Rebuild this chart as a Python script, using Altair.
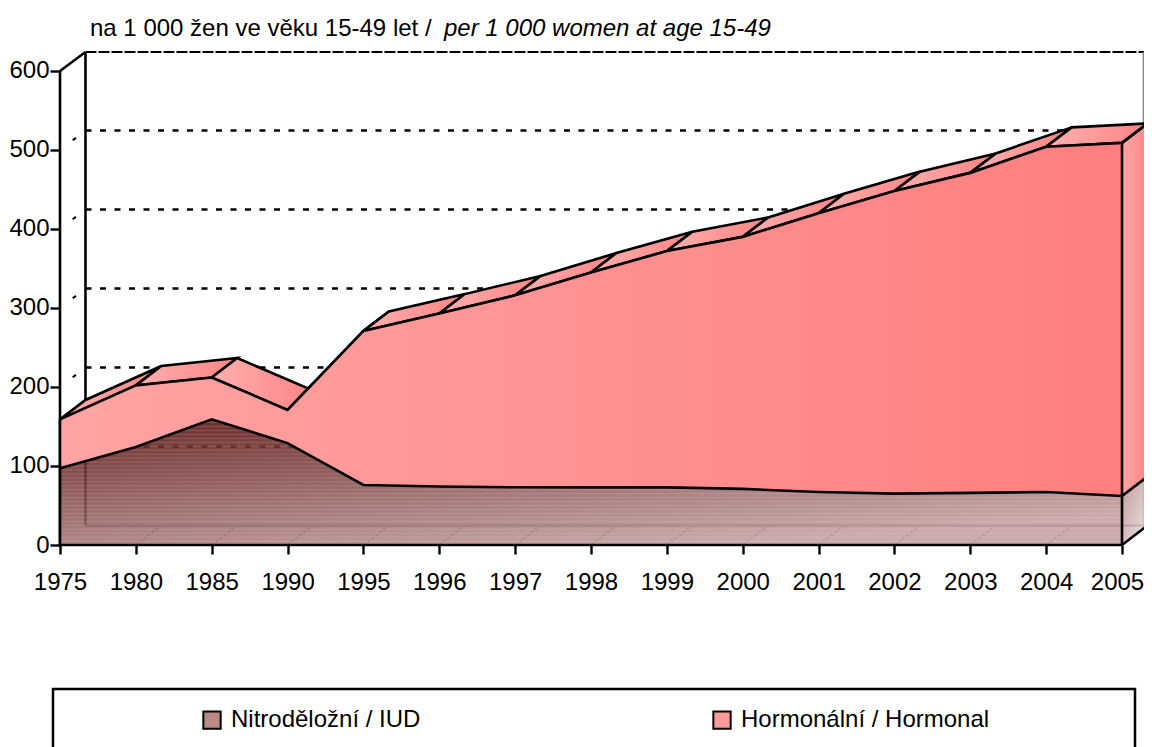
import altair as alt
import pandas as pd

years = ["1975","1980","1985","1990","1995","1996","1997","1998","1999","2000","2001","2002","2003","2004","2005"]
iud = [97,124,159,129,76,74,73,73,73,71,67,65,66,67,62]
hormonal = [62,78,53,42,195,219,243,272,299,319,353,383,405,437,447]
total = [a + b for a, b in zip(iud, hormonal)]
grid_values = [100, 200, 300, 400, 500]
y_ticks = [0, 100, 200, 300, 400, 500, 600]
series = ["Nitroděložní / IUD", "Hormonální / Hormonal"]
title_cz = "na 1 000 žen ve věku 15-49 let /"
title_en = "per 1 000 women at age 15-49"

DX, DY = 0.336, 24.6     # depth of the 3-D box, in data units
n = len(years)
last = n - 1
xmax = last + DX
ymax = 624.0
xview = 14.29            # the canvas ends slightly before the back of the box
FONT = "Liberation Sans"
LW = 2.6

xs = alt.Scale(domain=[0, xview], nice=False, zero=False)
ys = alt.Scale(domain=[0, ymax], nice=False, zero=False)
xaxis = alt.Axis(
    values=list(range(n)), domain=False, grid=False, tickSize=9, tickWidth=2.4, tickColor="black",
    labelExpr="[" + ",".join(f"'{y}'" for y in years) + "][datum.value]",
    labelFont=FONT, labelFontSize=24, labelColor="black", labelPadding=16, labelAngle=0,
    labelOffset=alt.expr(f"datum.value == {last} ? -5 : 0"),
    labelOverlap=False, labelFlush=False, labelBound=False, title=None)
yaxis = alt.Axis(
    values=y_ticks, domain=False, grid=False, tickSize=10, tickWidth=2.4, tickColor="black",
    labelFont=FONT, labelFontSize=24, labelColor="black", labelPadding=1,
    labelOverlap=False, labelFlush=False, title=None)
X = alt.X("x:Q", scale=xs, axis=xaxis)
Y = alt.Y("y:Q", scale=ys, axis=yaxis)

def grad(c0, c1, x2=1, y2=0):
    return alt.LinearGradient(gradient="linear", stops=[alt.GradientStop(offset=0, color=c0), alt.GradientStop(offset=1, color=c1)],
                        x1=0, y1=0, x2=x2, y2=y2)

def segs(rows):
    return alt.Data(values=[{"x": a, "x2": b, "y": c, "y2": d} for a, b, c, d in rows])

def rule(rows, **kw):
    return alt.Chart(segs(rows)).mark_rule(**kw).encode(x=X, x2="x2:Q", y=Y, y2="y2:Q")

def polygon(points, **kw):
    vals = [{"x": p[0], "y": p[1], "o": i} for i, p in enumerate(points)]
    return alt.Chart(alt.Data(values=vals)).mark_line(**kw).encode(x=X, y=Y, order="o:Q")

def hatch_rows(step=5):
    """Fine horizontal hatching of the IUD face: spans at each level below its upper edge."""
    rows = []
    level = step
    while level < max(iud):
        start = None if iud[0] < level else 0.0
        for i in range(last):
            a, b = iud[i], iud[i + 1]
            if (a - level) * (b - level) < 0:
                cross = i + (level - a) / (b - a)
                if start is None:
                    start = cross
                else:
                    rows.append((start, cross, level, level))
                    start = None
        if start is not None:
            rows.append((start, float(last), level, level))
        level += step
    return rows

front = pd.DataFrame({"x": list(range(n)), "y": total, "y2": iud, "z": [0] * n})

# back walls
top_line = rule([(DX, xmax, ymax, ymax)], color="black", strokeWidth=2.2, strokeDash=[11, 2])
right_line = rule([(xview - 0.005, xview - 0.005, DY, ymax)], color="#8c8c8c", strokeWidth=2)
back_left = rule([(DX, DX, DY, ymax)], color="black", strokeWidth=LW)
front_left = rule([(0, 0, 0, 600), (0, DX, 600, ymax)], color="black", strokeWidth=LW)
grid = rule([(DX, xmax, v + DY, v + DY) for v in grid_values], color="black", strokeWidth=2.5, strokeDash=[6, 8.5])
side = rule([(0, DX, v, v + DY) for v in grid_values], color="black", strokeWidth=2, strokeDash=[4, 28], strokeDashOffset=16)
floor_back = rule([(DX, xmax, DY, DY)], color="#444444", strokeWidth=2)
floor_side = rule([(i, i + DX, 0, DY) for i in range(1, last)], color="#666666", strokeWidth=1.6, strokeDash=[3, 2])

# right-hand faces
right_horm = polygon([(last, iud[-1]), (last, total[-1]), (xmax, total[-1] + DY), (xmax, iud[-1] + DY), (last, iud[-1])],
                     fill=grad("#ffa6a6", "#ff8484"), filled=True, strokeWidth=0, stroke="#ff8484")
right_iud = polygon([(last, 0), (last, iud[-1]), (xmax, iud[-1] + DY), (xmax, DY), (last, 0)],
                    fill=grad("#b58a8a", "#ece0e0", 1, 1), fillOpacity=0.85, filled=True, strokeWidth=0, stroke="#b58a8a")

# top facets, back to front
facets = []
for i in range(last):
    pts = [(i, total[i]), (i + 1, total[i + 1]), (i + 1 + DX, total[i + 1] + DY), (i + DX, total[i] + DY), (i, total[i])]
    facets.append(polygon(pts, fill=grad("#ffb0b0", "#ff8484"), filled=True, stroke="black", strokeWidth=LW))
end_facet = rule([(last, xmax, total[-1], total[-1] + DY)], color="black", strokeWidth=LW)

# front faces
front_horm = alt.Chart(front).mark_area(fill=grad("#ffa4a4", "#ff7e7e"), strokeWidth=0).encode(x=X, y=Y, y2="y2:Q")
front_iud = alt.Chart(front).mark_area(fill=grad("#500404", "#c29c9c", 0.6, 1), fillOpacity=0.86, strokeWidth=0).encode(
    x=X, y=alt.Y("y2:Q", scale=ys, axis=yaxis), y2="z:Q")
hatch = rule(hatch_rows(), color="white", strokeWidth=1, opacity=0.14)
line_total = alt.Chart(front).mark_line(color="black", strokeWidth=LW).encode(x=X, y=Y)
line_iud = alt.Chart(front).mark_line(color="black", strokeWidth=LW).encode(x=X, y=alt.Y("y2:Q", scale=ys, axis=yaxis))
edges = rule([(0, last, 0, 0), (last, last, 0, total[-1]), (0, 0, 0, total[0]),
              (last, xmax, 0, DY), (last, xmax, iud[-1], iud[-1] + DY)], color="black", strokeWidth=LW)

# titles
one = alt.Data(values=[{"t": title_cz}])
t1 = alt.Chart(one).mark_text(font=FONT, fontSize=24, align="left", baseline="alphabetic", color="black").encode(
    x=alt.value(30), y=alt.value(-16), text="t:N")
two = alt.Data(values=[{"t": title_en}])
t2 = alt.Chart(two).mark_text(font=FONT, fontSize=24, fontStyle="italic", align="left", baseline="alphabetic", color="black").encode(
    x=alt.value(384), y=alt.value(-16), text="t:N")

# legend
box = alt.Chart(alt.Data(values=[{"a": 1}])).mark_rect(fillOpacity=0, stroke="black", strokeWidth=2.5).encode(
    x=alt.value(-7), x2=alt.value(1075), y=alt.value(637), y2=alt.value(730))
legend_src = alt.Chart(alt.Data(values=[{"s": s} for s in series])).mark_square(size=0).encode(
    x=alt.value(-50), y=alt.value(-50),
    fill=alt.Fill("s:N", scale=alt.Scale(domain=series, range=["#b98a8a", "#ff9a9a"]), sort=series,
                  legend=alt.Legend(orient="none", legendX=140, legendY=656, columns=2, title=None,
                                    columnPadding=288, symbolType="square", symbolSize=300,
                                    symbolStrokeColor="black", symbolStrokeWidth=2, symbolOpacity=1,
                                    labelFont=FONT, labelFontSize=24, labelColor="black",
                                    labelOffset=7, labelLimit=400)),
)

axes = alt.Chart(front).mark_point(opacity=0).encode(x=X, y=Y)

chart = alt.layer(
    axes, top_line, right_line, grid, side, back_left, front_left, floor_back, floor_side,
    right_horm, right_iud, *facets, end_facet, front_horm, front_iud, hatch, line_total, line_iud, edges,
    t1, t2, box, legend_src,
).properties(
    width=1084, height=493,
    padding={"left": 52, "top": 44, "right": 0, "bottom": 202},
    autosize=alt.AutoSizeParams(type="none"),
    background="white",
).configure_view(stroke=None)

chart.save("out.html", embed_options={"renderer": "svg", "actions": False})
